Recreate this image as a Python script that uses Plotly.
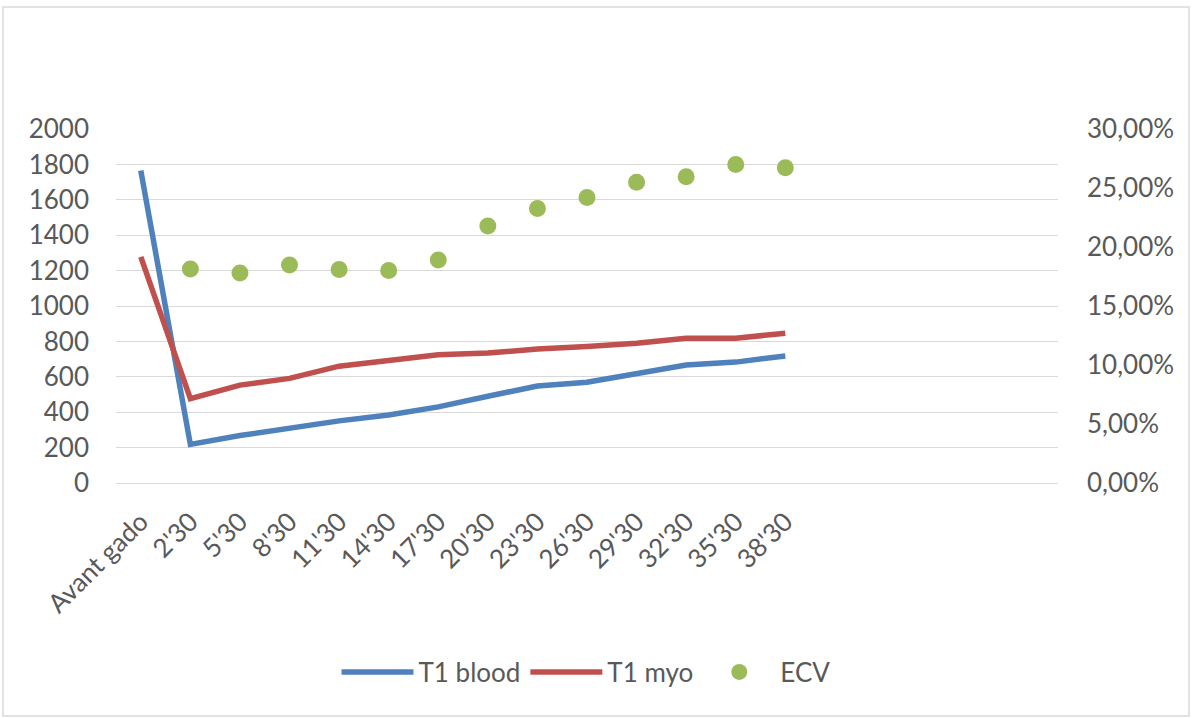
import plotly.graph_objects as go

# Acquisition times (one category slot per time point; five trailing slots stay empty)
categories = ["Avant gado", "2'30", "5'30", "8'30", "11'30", "14'30", "17'30",
              "20'30", "23'30", "26'30", "29'30", "32'30", "35'30", "38'30"]

t1_blood = [1765, 218, 268, 310, 351, 384, 430, 490, 548, 569, 616, 667, 683, 718]
t1_myo = [1278, 476, 553, 591, 660, 694, 725, 734, 757, 771, 790, 818, 818, 846]
ecv = [None, 0.1813, 0.1779, 0.1847, 0.1810, 0.1800, 0.1889, 0.2177, 0.2327,
       0.2420, 0.2548, 0.2596, 0.2700, 0.2672]

left_ticks = [0, 200, 400, 600, 800, 1000, 1200, 1400, 1600, 1800, 2000]
right_ticks = [0, 0.05, 0.10, 0.15, 0.20, 0.25, 0.30]

W, H = 1192, 718
L, R, T, B = 116, 134, 129, 235
pw, ph = W - L - R, H - T - B

FONT = "Lato"
FS = 26
TXT = "#595959"
GRID = "#D9D9D9"

fig = go.Figure()
fig.add_trace(go.Scatter(x=categories, y=t1_blood, name="T1 blood", mode="lines",
                         line=dict(color="#4F81BD", width=5.5)))
fig.add_trace(go.Scatter(x=categories, y=t1_myo, name="T1 myo", mode="lines",
                         line=dict(color="#C0504D", width=5.5)))
fig.add_trace(go.Scatter(x=categories, y=ecv, name="ECV", mode="markers", yaxis="y2",
                         marker=dict(color="#9BBB59", size=17)))

# light frame around the whole chart
def px_x(p):
    return (p - L) / pw

def px_y(p):
    return (H - B - p) / ph

fig.add_shape(type="rect", xref="paper", yref="paper",
              x0=px_x(3), x1=px_x(1189), y0=px_y(716), y1=px_y(7),
              line=dict(color=GRID, width=1.5), fillcolor="rgba(0,0,0,0)", layer="below")

fig.update_layout(
    width=W, height=H,
    margin=dict(l=L, r=R, t=T, b=B),
    paper_bgcolor="white", plot_bgcolor="white",
    separators=", ",
    font=dict(family=FONT, size=FS, color=TXT),
    xaxis=dict(type="category", categoryorder="array", categoryarray=categories,
               range=[-0.5, 18.5], tickangle=-45, showgrid=False,
               showline=True, linecolor=GRID, linewidth=1.3,
               ticks="", ticklabelstandoff=12,
               tickfont=dict(family=FONT, size=FS, color=TXT)),
    yaxis=dict(range=[0, 2000], tickvals=left_ticks, showgrid=True, gridcolor=GRID,
               gridwidth=1.3, zeroline=False, showline=False, ticks="",
               ticklabelstandoff=26,
               tickfont=dict(family=FONT, size=FS, color=TXT)),
    yaxis2=dict(range=[0, 0.30], tickvals=right_ticks, tickformat=".2%",
                overlaying="y", side="right", showgrid=False, zeroline=False,
                showline=False, ticks="", ticklabelstandoff=28,
                tickfont=dict(family=FONT, size=FS, color=TXT)),
    legend=dict(orientation="h", x=px_x(586), xanchor="center",
                y=px_y(672), yanchor="middle", font=dict(family=FONT, size=FS, color=TXT),
                itemwidth=72, bgcolor="rgba(0,0,0,0)"),
    showlegend=True,
)

fig.write_html("out.html")
